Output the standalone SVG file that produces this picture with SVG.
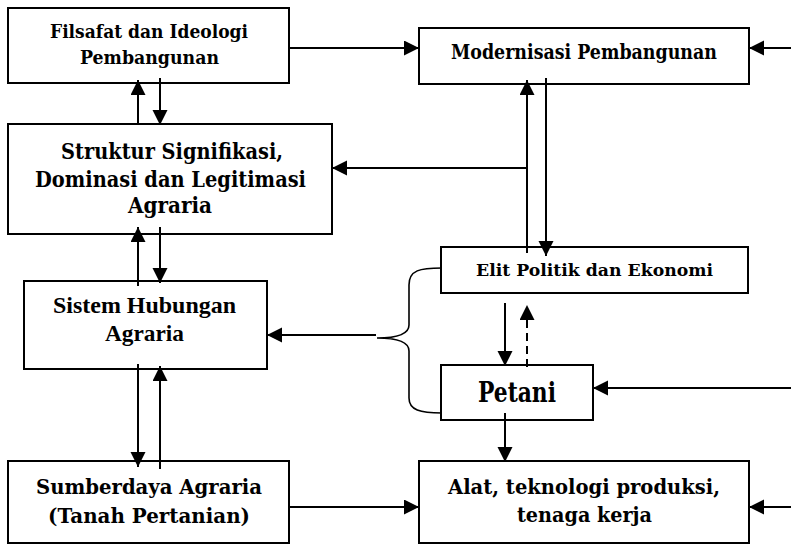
<svg xmlns="http://www.w3.org/2000/svg" width="791" height="545" viewBox="0 0 791 545">
<style>
.box{fill:#fff;stroke:#000;stroke-width:2}
.t{font-family:"DejaVu Serif","Liberation Serif",serif;font-weight:bold;fill:#000;text-anchor:middle}
.tr{font-family:"Liberation Serif","Times New Roman",serif;font-weight:bold;fill:#000;text-anchor:middle}
.c{fill:none;stroke:#000;stroke-width:2}
.a{marker-end:url(#ah)}
.d{stroke-dasharray:8 5}
.br{fill:none;stroke:#000;stroke-width:1.6}
</style>
<defs>
<marker id="ah" markerUnits="userSpaceOnUse" markerWidth="16" markerHeight="16" refX="15" refY="7.5" orient="auto">
<path d="M0,0 L15,7.5 L0,15 Z" fill="#000"/>
</marker>
</defs>
<rect width="791" height="545" fill="#fff"/>
<g id="filsafat">
<rect class="box" x="8" y="8" width="281" height="75"/>
<text class="t" x="149" y="38" font-size="19" textLength="198" lengthAdjust="spacingAndGlyphs">Filsafat dan Ideologi</text>
<text class="t" x="149.5" y="64" font-size="19" textLength="139" lengthAdjust="spacingAndGlyphs">Pembangunan</text>
</g>
<g id="modernisasi">
<rect class="box" x="419" y="28" width="330" height="56"/>
<text class="t" x="584" y="59" font-size="20" textLength="266" lengthAdjust="spacingAndGlyphs">Modernisasi Pembangunan</text>
</g>
<g id="struktur">
<rect class="box" x="8" y="124" width="324" height="110"/>
<text class="t" x="172" y="159" font-size="22" textLength="222" lengthAdjust="spacingAndGlyphs">Struktur Signifikasi,</text>
<text class="t" x="170.5" y="187" font-size="22" textLength="271" lengthAdjust="spacingAndGlyphs">Dominasi dan Legitimasi</text>
<text class="t" x="170" y="213" font-size="22" textLength="84" lengthAdjust="spacingAndGlyphs">Agraria</text>
</g>
<g id="sistem">
<rect class="box" x="24" y="281" width="243" height="88"/>
<text class="tr" x="144.5" y="313" font-size="24" textLength="183" lengthAdjust="spacingAndGlyphs">Sistem Hubungan</text>
<text class="tr" x="144.5" y="341" font-size="24" textLength="79" lengthAdjust="spacingAndGlyphs">Agraria</text>
</g>
<g id="sumberdaya">
<rect class="box" x="8" y="461" width="281" height="82"/>
<text class="t" x="149" y="494" font-size="21" textLength="226" lengthAdjust="spacingAndGlyphs">Sumberdaya Agraria</text>
<text class="t" x="149" y="523" font-size="21" textLength="202" lengthAdjust="spacingAndGlyphs">(Tanah Pertanian)</text>
</g>
<g id="elit">
<rect class="box" x="441" y="247" width="307" height="46"/>
<text class="t" x="594.5" y="276" font-size="17" textLength="237" lengthAdjust="spacingAndGlyphs">Elit Politik dan Ekonomi</text>
</g>
<g id="petani">
<rect class="box" x="441" y="365" width="152" height="55"/>
<text class="t" x="517" y="402" font-size="27" textLength="78" lengthAdjust="spacingAndGlyphs">Petani</text>
</g>
<g id="alat">
<rect class="box" x="419" y="461" width="330" height="82"/>
<text class="t" x="584" y="494" font-size="21" textLength="272" lengthAdjust="spacingAndGlyphs">Alat, teknologi produksi,</text>
<text class="t" x="584.5" y="522" font-size="21" textLength="135" lengthAdjust="spacingAndGlyphs">tenaga kerja</text>
</g>
<g id="connectors">
<path class="c a" d="M289,48 H419"/>
<path class="c a" d="M791,48 H749"/>
<path class="c a" d="M138,124 V80"/>
<path class="c a" d="M160,78 V125"/>
<path class="c a" d="M138,286 V227"/>
<path class="c a" d="M160,227 V283"/>
<path class="c a" d="M138,364 V467"/>
<path class="c a" d="M160,469 V366"/>
<path class="c a" d="M289,507 H419"/>
<path class="c a" d="M791,507 H749"/>
<path class="c a" d="M527,253 V80"/>
<path class="c a" d="M546,78 V256"/>
<path class="c a" d="M527,168 H332"/>
<path class="c a" d="M505,303 V366"/>
<path class="c a d" d="M527,367 V305"/>
<path class="c a" d="M791,388 H593"/>
<path class="c a" d="M505,413 V462"/>
<path class="c a" d="M376,335 H267"/>
<path class="br" d="M442,268 C420,268 409,270 409,285 V325 C409,335 395,338 377,338 C395,338 409,341 409,351 V398 C409,410 420,413 442,413"/>
</g>
</svg>
